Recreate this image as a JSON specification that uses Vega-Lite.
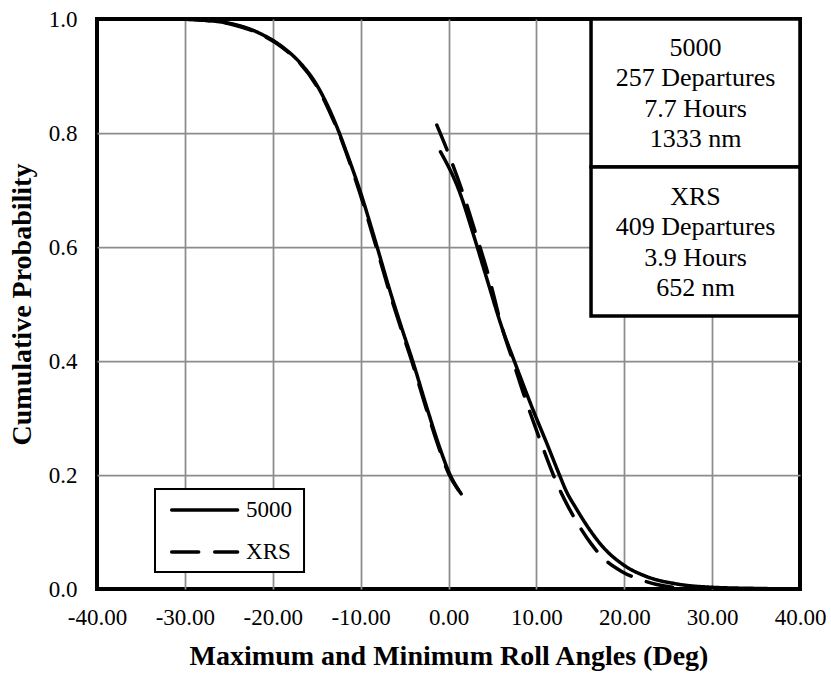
{
  "$schema": "https://vega.github.io/schema/vega-lite/v6.json",
  "width": 703,
  "height": 570,
  "autosize": {"type": "none"},
  "padding": {"left": 97, "top": 19, "right": 31, "bottom": 84},
  "background": "white",
  "config": {
    "font": "Liberation Serif",
    "view": {"stroke": "black", "strokeWidth": 4},
    "axis": {
      "labelFont": "Liberation Serif",
      "labelColor": "black",
      "titleFont": "Liberation Serif",
      "titleColor": "black",
      "titleFontWeight": "bold",
      "ticks": false,
      "domain": false,
      "gridColor": "#8c8c8c",
      "gridWidth": 1.75,
      "labelOverlap": false,
      "labelFlush": false,
      "labelBound": false
    }
  },
  "datasets": {
    "cdf": [
      {"series": "5000", "branch": "min", "roll": -40, "p": 1.0},
      {"series": "5000", "branch": "min", "roll": -34, "p": 1.0},
      {"series": "5000", "branch": "min", "roll": -30, "p": 0.9995},
      {"series": "5000", "branch": "min", "roll": -28, "p": 0.998},
      {"series": "5000", "branch": "min", "roll": -26, "p": 0.995},
      {"series": "5000", "branch": "min", "roll": -24.5, "p": 0.991},
      {"series": "5000", "branch": "min", "roll": -21.5, "p": 0.975},
      {"series": "5000", "branch": "min", "roll": -18.9, "p": 0.951},
      {"series": "5000", "branch": "min", "roll": -17.0, "p": 0.925},
      {"series": "5000", "branch": "min", "roll": -15.1, "p": 0.887},
      {"series": "5000", "branch": "min", "roll": -13.2, "p": 0.829},
      {"series": "5000", "branch": "min", "roll": -12.4, "p": 0.799},
      {"series": "5000", "branch": "min", "roll": -11.7, "p": 0.770},
      {"series": "5000", "branch": "min", "roll": -10.1, "p": 0.700},
      {"series": "5000", "branch": "min", "roll": -8.2, "p": 0.604},
      {"series": "5000", "branch": "min", "roll": -6.7, "p": 0.525},
      {"series": "5000", "branch": "min", "roll": -5.2, "p": 0.452},
      {"series": "5000", "branch": "min", "roll": -4.1, "p": 0.401},
      {"series": "5000", "branch": "min", "roll": -2.4, "p": 0.315},
      {"series": "5000", "branch": "min", "roll": -1.0, "p": 0.248},
      {"series": "5000", "branch": "min", "roll": 0.1, "p": 0.203},
      {"series": "5000", "branch": "min", "roll": 1.44, "p": 0.167},

      {"series": "XRS", "branch": "min", "roll": -40, "p": 1.0},
      {"series": "XRS", "branch": "min", "roll": -34, "p": 1.0},
      {"series": "XRS", "branch": "min", "roll": -30, "p": 0.9995},
      {"series": "XRS", "branch": "min", "roll": -28, "p": 0.998},
      {"series": "XRS", "branch": "min", "roll": -26, "p": 0.995},
      {"series": "XRS", "branch": "min", "roll": -24.5, "p": 0.990},
      {"series": "XRS", "branch": "min", "roll": -21.5, "p": 0.974},
      {"series": "XRS", "branch": "min", "roll": -18.9, "p": 0.950},
      {"series": "XRS", "branch": "min", "roll": -17.0, "p": 0.924},
      {"series": "XRS", "branch": "min", "roll": -15.1, "p": 0.885},
      {"series": "XRS", "branch": "min", "roll": -13.2, "p": 0.826},
      {"series": "XRS", "branch": "min", "roll": -12.4, "p": 0.797},
      {"series": "XRS", "branch": "min", "roll": -11.7, "p": 0.768},
      {"series": "XRS", "branch": "min", "roll": -10.2, "p": 0.700},
      {"series": "XRS", "branch": "min", "roll": -8.3, "p": 0.604},
      {"series": "XRS", "branch": "min", "roll": -6.8, "p": 0.525},
      {"series": "XRS", "branch": "min", "roll": -5.3, "p": 0.452},
      {"series": "XRS", "branch": "min", "roll": -4.2, "p": 0.401},
      {"series": "XRS", "branch": "min", "roll": -2.5, "p": 0.315},
      {"series": "XRS", "branch": "min", "roll": -1.1, "p": 0.248},
      {"series": "XRS", "branch": "min", "roll": 0.0, "p": 0.203},
      {"series": "XRS", "branch": "min", "roll": 1.3, "p": 0.170},

      {"series": "5000", "branch": "max", "roll": -0.91, "p": 0.767},
      {"series": "5000", "branch": "max", "roll": 1.25, "p": 0.697},
      {"series": "5000", "branch": "max", "roll": 2.77, "p": 0.625},
      {"series": "5000", "branch": "max", "roll": 4.29, "p": 0.548},
      {"series": "5000", "branch": "max", "roll": 6.18, "p": 0.454},
      {"series": "5000", "branch": "max", "roll": 7.51, "p": 0.399},
      {"series": "5000", "branch": "max", "roll": 9.6, "p": 0.315},
      {"series": "5000", "branch": "max", "roll": 11.2, "p": 0.255},
      {"series": "5000", "branch": "max", "roll": 12.63, "p": 0.200},
      {"series": "5000", "branch": "max", "roll": 13.39, "p": 0.172},
      {"series": "5000", "branch": "max", "roll": 14.5, "p": 0.142},
      {"series": "5000", "branch": "max", "roll": 15.67, "p": 0.113},
      {"series": "5000", "branch": "max", "roll": 17.56, "p": 0.074},
      {"series": "5000", "branch": "max", "roll": 19.84, "p": 0.043},
      {"series": "5000", "branch": "max", "roll": 22.5, "p": 0.022},
      {"series": "5000", "branch": "max", "roll": 25.9, "p": 0.009},
      {"series": "5000", "branch": "max", "roll": 30, "p": 0.003},
      {"series": "5000", "branch": "max", "roll": 35, "p": 0.001},
      {"series": "5000", "branch": "max", "roll": 40, "p": 0.0},

      {"series": "XRS", "branch": "max", "roll": -1.33, "p": 0.814},
      {"series": "XRS", "branch": "max", "roll": -0.08, "p": 0.767},
      {"series": "XRS", "branch": "max", "roll": 1.63, "p": 0.695},
      {"series": "XRS", "branch": "max", "roll": 3.15, "p": 0.621},
      {"series": "XRS", "branch": "max", "roll": 4.59, "p": 0.548},
      {"series": "XRS", "branch": "max", "roll": 6.1, "p": 0.458},
      {"series": "XRS", "branch": "max", "roll": 7.4, "p": 0.397},
      {"series": "XRS", "branch": "max", "roll": 8.6, "p": 0.340},
      {"series": "XRS", "branch": "max", "roll": 10.5, "p": 0.258},
      {"series": "XRS", "branch": "max", "roll": 12.4, "p": 0.183},
      {"series": "XRS", "branch": "max", "roll": 13.6, "p": 0.145},
      {"series": "XRS", "branch": "max", "roll": 14.7, "p": 0.115},
      {"series": "XRS", "branch": "max", "roll": 16.2, "p": 0.080},
      {"series": "XRS", "branch": "max", "roll": 17.7, "p": 0.053},
      {"series": "XRS", "branch": "max", "roll": 19.8, "p": 0.030},
      {"series": "XRS", "branch": "max", "roll": 21.9, "p": 0.016},
      {"series": "XRS", "branch": "max", "roll": 23.7, "p": 0.008},
      {"series": "XRS", "branch": "max", "roll": 25.5, "p": 0.003},
      {"series": "XRS", "branch": "max", "roll": 27, "p": 0.001}
    ],
    "flights": [
      {"series": "5000", "info": "5000\n257 Departures\n7.7 Hours\n1333 nm"},
      {"series": "XRS", "info": "XRS\n409 Departures\n3.9 Hours\n652 nm"}
    ],
    "keys": [
      {"series": "5000"},
      {"series": "XRS"}
    ]
  },
  "layer": [
    {
      "data": {"name": "cdf"},
      "mark": {"type": "line", "color": "black", "strokeWidth": 3.5, "strokeCap": "round", "interpolate": "monotone", "clip": true},
      "encoding": {
        "x": {
          "field": "roll", "type": "quantitative",
          "scale": {"domain": [-40, 40], "nice": false, "zero": false},
          "axis": {
            "values": [-40, -30, -20, -10, 0, 10, 20, 30, 40],
            "labelExpr": "replace(format(datum.value, '.2f'), '\u2212', '-')",
            "labelFontSize": 23,
            "labelPadding": 17,
            "title": "Maximum and Minimum Roll Angles (Deg)",
            "titleFontSize": 28,
            "titlePadding": 13,
            "gridOpacity": {"condition": {"test": "abs(datum.value) == 40", "value": 0}, "value": 1}
          }
        },
        "y": {
          "field": "p", "type": "quantitative",
          "scale": {"domain": [0, 1], "nice": false},
          "axis": {
            "values": [0, 0.2, 0.4, 0.6, 0.8, 1.0],
            "format": ".1f",
            "labelFontSize": 23,
            "labelPadding": 20,
            "title": "Cumulative Probability",
            "titleFontSize": 28,
            "titlePadding": 12,
            "gridOpacity": {"condition": {"test": "datum.value == 0 || datum.value == 1", "value": 0}, "value": 1}
          }
        },
        "detail": {"field": "branch"},
        "strokeDash": {
          "field": "series", "type": "nominal",
          "scale": {"domain": ["5000", "XRS"], "range": [[1, 0], [27, 16]]},
          "legend": null
        }
      }
    },
    {
      "data": {"name": "flights"},
      "transform": [{"filter": "datum.series == '5000'"}],
      "mark": {"type": "rect", "fill": "white", "stroke": "black", "strokeWidth": 3.5},
      "encoding": {
        "x": {"datum": 16.22, "type": "quantitative"},
        "x2": {"datum": 40},
        "y": {"datum": 1.0, "type": "quantitative"},
        "y2": {"datum": 0.7404}
      }
    },
    {
      "data": {"name": "flights"},
      "transform": [{"filter": "datum.series == 'XRS'"}],
      "mark": {"type": "rect", "fill": "white", "stroke": "black", "strokeWidth": 3.5},
      "encoding": {
        "x": {"datum": 16.22, "type": "quantitative"},
        "x2": {"datum": 40},
        "y": {"datum": 0.7404, "type": "quantitative"},
        "y2": {"datum": 0.479}
      }
    },
    {
      "data": {"name": "flights"},
      "transform": [{"filter": "datum.series == '5000'"}],
      "mark": {"type": "text", "font": "Liberation Serif", "fontSize": 26, "lineHeight": 30.3, "lineBreak": "\n", "align": "center", "baseline": "middle", "color": "black"},
      "encoding": {
        "x": {"datum": 28.11, "type": "quantitative"},
        "y": {"datum": 0.9491, "type": "quantitative"},
        "text": {"field": "info"}
      }
    },
    {
      "data": {"name": "flights"},
      "transform": [{"filter": "datum.series == 'XRS'"}],
      "mark": {"type": "text", "font": "Liberation Serif", "fontSize": 26, "lineHeight": 30.3, "lineBreak": "\n", "align": "center", "baseline": "middle", "color": "black"},
      "encoding": {
        "x": {"datum": 28.11, "type": "quantitative"},
        "y": {"datum": 0.6877, "type": "quantitative"},
        "text": {"field": "info"}
      }
    },
    {
      "data": {"values": [{"box": "legend"}]},
      "mark": {"type": "rect", "fill": "white", "stroke": "black", "strokeWidth": 2},
      "encoding": {
        "x": {"datum": -33.4, "type": "quantitative"},
        "x2": {"datum": -16.44},
        "y": {"datum": 0.1754, "type": "quantitative"},
        "y2": {"datum": 0.0298}
      }
    },
    {
      "data": {"name": "keys"},
      "transform": [{"filter": "datum.series == '5000'"}],
      "mark": {"type": "rule", "color": "black", "strokeWidth": 3.5, "strokeCap": "round"},
      "encoding": {
        "x": {"datum": -31.5, "type": "quantitative"},
        "x2": {"datum": -24.0},
        "y": {"datum": 0.1386, "type": "quantitative"}
      }
    },
    {
      "data": {"name": "keys"},
      "transform": [{"filter": "datum.series == 'XRS'"}],
      "mark": {"type": "rule", "color": "black", "strokeWidth": 3.5, "strokeCap": "round", "strokeDash": [27, 16]},
      "encoding": {
        "x": {"datum": -31.5, "type": "quantitative"},
        "x2": {"datum": -24.0},
        "y": {"datum": 0.0649, "type": "quantitative"}
      }
    },
    {
      "data": {"name": "keys"},
      "transform": [{"filter": "datum.series == '5000'"}],
      "mark": {"type": "text", "font": "Liberation Serif", "fontSize": 23, "align": "left", "baseline": "middle", "color": "black"},
      "encoding": {
        "x": {"datum": -23.04, "type": "quantitative"},
        "y": {"datum": 0.1386, "type": "quantitative"},
        "text": {"field": "series"}
      }
    },
    {
      "data": {"name": "keys"},
      "transform": [{"filter": "datum.series == 'XRS'"}],
      "mark": {"type": "text", "font": "Liberation Serif", "fontSize": 23, "align": "left", "baseline": "middle", "color": "black"},
      "encoding": {
        "x": {"datum": -23.04, "type": "quantitative"},
        "y": {"datum": 0.0649, "type": "quantitative"},
        "text": {"field": "series"}
      }
    }
  ]
}
